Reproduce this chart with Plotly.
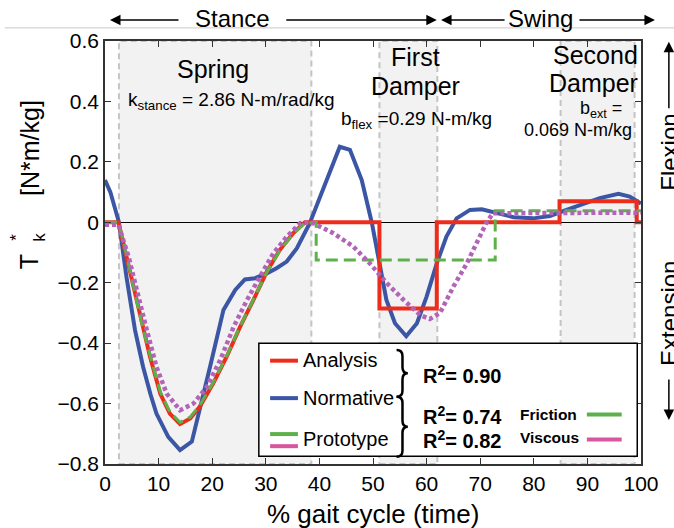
import plotly.graph_objects as go

# ---------------- data ----------------
norm_x = [0, 1, 2.6, 4, 5.6, 7.1, 8.5, 9.6, 11.8, 14, 16.2, 17.7, 19.6, 22.1, 24.3, 26.1, 28,
          30.2, 32, 33.9, 35.8, 38.2, 41.3, 43.8, 45.7, 47.9, 49.8, 51.3, 52.5, 54.1, 56.2,
          58.2, 60, 61.9, 63.7, 65.6, 68.1, 70.3, 73.1, 76.2, 79.9, 83, 86.1, 89.2, 92.3,
          95.8, 97.9, 100]
norm_y = [0.14, 0.10, 0.0, -0.18, -0.357, -0.478, -0.57, -0.633, -0.71, -0.754, -0.726, -0.62,
          -0.478, -0.29, -0.224, -0.189, -0.185, -0.169, -0.152, -0.13, -0.086, -0.003, 0.14,
          0.25, 0.24, 0.14, -0.003, -0.136, -0.257, -0.334, -0.377, -0.334, -0.246, -0.136,
          -0.047, 0.013, 0.041, 0.043, 0.032, 0.017, 0.013, 0.021, 0.041, 0.061, 0.08, 0.094,
          0.085, 0.062]

analysis_x = [0, 2.5, 3.7, 5.3, 6.8, 8.4, 10.3, 12.1, 14, 15.9, 17.7, 20.2, 22.7, 25.2, 27.7,
              30.2, 32.6, 35.1, 37.3, 38.5, 51.2, 51.2, 61.9, 61.9, 84.8, 84.8, 99.2, 99.2, 100]
analysis_y = [0, 0, -0.09, -0.213, -0.334, -0.445, -0.567, -0.633, -0.668, -0.649, -0.61,
              -0.533, -0.445, -0.346, -0.257, -0.163, -0.092, -0.036, 0, 0, 0, -0.285, -0.285,
              0, 0, 0.07, 0.07, 0, 0]

friction_x = [0, 2.5, 3.7, 5.3, 6.8, 8.4, 10.3, 12.1, 14, 15.9, 17.7, 20.2, 22.7, 25.2, 27.7,
              30.2, 32.6, 35.1, 37.3, 38.5, 39.4, 39.4, 72.8, 72.8, 100]
friction_y = [0, 0, -0.085, -0.21, -0.33, -0.44, -0.56, -0.628, -0.662, -0.645, -0.605, -0.53,
              -0.443, -0.345, -0.257, -0.165, -0.094, -0.038, -0.002, 0, 0, -0.125, -0.125,
              0.038, 0.038]

viscous_x = [0, 2.5, 4.4, 5.9, 7.8, 9.6, 11.5, 14, 16.5, 19, 21.5, 24, 26.5, 28.9, 31.4, 33.9,
             36.4, 38.5, 42.6, 46.3, 49.4, 52.5, 55.7, 58.8, 60.6, 62.5, 65, 67.5, 69.4, 71.2,
             72.4, 100]
viscous_y = [-0.008, -0.008, -0.114, -0.224, -0.357, -0.478, -0.567, -0.622, -0.6, -0.545,
             -0.456, -0.346, -0.257, -0.18, -0.103, -0.048, -0.003, 0, -0.036, -0.08, -0.136,
             -0.2, -0.257, -0.307, -0.32, -0.3, -0.213, -0.136, -0.07, 0, 0.03, 0.032]

region_start = [2.6, 51.2, 85.0]
region_end = [38.5, 62.0, 98.8]

r2_labels = ["0.90", "0.74", "0.82"]

# ---------------- style ----------------
FONT = "Liberation Sans, Arial, sans-serif"
RED = "#ec2d1c"
BLUE = "#3a56a5"
GREEN = "#5db14a"
PURPLE = "#b264b8"
PINK = "#d8569d"

fig = go.Figure()

fig.add_trace(go.Scatter(x=norm_x, y=norm_y, mode="lines",
                         line=dict(color=BLUE, width=4), showlegend=False))
fig.add_trace(go.Scatter(x=analysis_x, y=analysis_y, mode="lines",
                         line=dict(color=RED, width=4), showlegend=False))
fig.add_trace(go.Scatter(x=friction_x, y=friction_y, mode="lines",
                         line=dict(color=GREEN, width=3, dash="12px,6px"), showlegend=False))
fig.add_trace(go.Scatter(x=viscous_x, y=viscous_y, mode="lines",
                         line=dict(color=PURPLE, width=4.5, dash="4px,3px"), showlegend=False))

shapes = []
for a, b in zip(region_start, region_end):
    shapes.append(dict(type="rect", xref="x", yref="y", x0=a, x1=b, y0=-0.8, y1=0.6,
                       fillcolor="#f2f2f2", line=dict(color="#c4c4c4", width=2, dash="6px,4px"),
                       layer="below"))

# thin line above the plot
shapes.append(dict(type="line", xref="paper", yref="paper", x0=-0.187, x1=1.07,
                   y0=1.031, y1=1.031, line=dict(color="#c8c8c8", width=1)))

# legend box
shapes.append(dict(type="rect", xref="x", yref="y", x0=28.7, x1=99.3, y0=-0.774, y1=-0.40,
                   fillcolor="white", line=dict(color="black", width=1.5), layer="above"))
leg_segments = [(30.8, 36.0, -0.458, RED), (30.8, 36.0, -0.582, BLUE),
                (30.8, 36.0, -0.701, GREEN), (30.8, 36.0, -0.741, PINK),
                (89.9, 96.4, -0.636, GREEN), (89.9, 96.4, -0.719, PINK)]
for x0, x1, yy, c in leg_segments:
    shapes.append(dict(type="line", xref="x", yref="y", x0=x0, x1=x1, y0=yy, y1=yy,
                       line=dict(color=c, width=4), layer="above"))


def brace(xe, xs, xt, ytop, ymid, ybot, r):
    return (f"M {xe},{ytop} Q {xs},{ytop} {xs},{ytop - r} L {xs},{ymid + r} "
            f"Q {xs},{ymid} {xt},{ymid} Q {xs},{ymid} {xs},{ymid - r} "
            f"L {xs},{ybot + r} Q {xs},{ybot} {xe},{ybot}")


for ytop, ymid, ybot in [(-0.423, -0.500, -0.5775), (-0.5775, -0.677, -0.776)]:
    shapes.append(dict(type="path", xref="x", yref="y",
                       path=brace(54.4, 55.5, 56.5, ytop, ymid, ybot, 0.02),
                       line=dict(color="black", width=2.5), layer="above"))

ann = []


def txt(x, y, text, size, xref="x", yref="y", xanchor="center", bold=False, angle=0,
        yanchor="middle"):
    if bold:
        text = f"<b>{text}</b>"
    ann.append(dict(x=x, y=y, xref=xref, yref=yref, text=text, showarrow=False,
                    xanchor=xanchor, yanchor=yanchor, textangle=angle,
                    font=dict(family=FONT, size=size, color="black")))


# region annotations
txt(20.1, 0.508, "Spring", 25)
txt(4.0, 0.40, "k<sub>stance</sub> = 2.86 N-m/rad/kg", 19, xanchor="left")
txt(57.9, 0.546, "First", 25)
txt(57.9, 0.451, "Damper", 25)
txt(58.1, 0.338, "b<sub>flex</sub> =0.29 N-m/kg", 19)
txt(99.8, 0.553, "Second", 25, xanchor="right")
txt(99.8, 0.460, "Damper", 25, xanchor="right")
txt(92.6, 0.374, "b<sub>ext</sub> =", 18)
txt(88.2, 0.307, "0.069 N-m/kg", 18)

# legend texts
txt(36.5, -0.457, "Analysis", 20, xanchor="left")
txt(36.5, -0.582, "Normative", 20, xanchor="left")
txt(36.5, -0.718, "Prototype", 20, xanchor="left")
for yy, lab in zip([-0.505, -0.641, -0.719], r2_labels):
    txt(58.9, yy, f"R<sup>2</sup>= {lab}", 20, xanchor="left", bold=True)
txt(77.0, -0.636, "Friction", 15.5, xanchor="left", bold=True)
txt(77.0, -0.713, "Viscous", 15.5, xanchor="left", bold=True)

# top phase labels
txt(0.237, 1.054, "Stance", 24, xref="paper", yref="paper")
txt(0.812, 1.054, "Swing", 24, xref="paper", yref="paper")

# right side labels
txt(1.054, 0.738, "Flexion", 24, xref="paper", yref="paper", angle=-90)
txt(1.054, 0.357, "Extension", 24, xref="paper", yref="paper", angle=-90)

# axis titles
txt(0.5, -0.118, "% gait cycle (time)", 26, xref="paper", yref="paper")
txt(-0.14, 0.747, "[N*m/kg]", 25, xref="paper", yref="paper", angle=-90)
txt(-0.143, 0.478, "T", 25, xref="paper", yref="paper", angle=-90)
txt(-0.164, 0.535, "*", 17, xref="paper", yref="paper", angle=-90)
txt(-0.121, 0.535, "k", 17, xref="paper", yref="paper", angle=-90)


def arrow(x, y, ax, ay):
    ann.append(dict(x=x, y=y, xref="paper", yref="paper", axref="pixel", ayref="pixel",
                    ax=ax, ay=ay, text="", showarrow=True, arrowhead=2, arrowsize=1.4,
                    arrowwidth=1.5, arrowcolor="black"))


ytop_arrow = 1.0496
arrow(0.0093, ytop_arrow, 70, 0)
arrow(0.619, ytop_arrow, -152, 0)
arrow(0.627, ytop_arrow, 65, 0)
arrow(1.026, ytop_arrow, -77, 0)
arrow(1.052, 0.998, 0, 68)
arrow(1.052, 0.104, 0, -42)

fig.update_layout(
    width=674, height=528,
    margin=dict(l=105, r=33, t=41, b=64),
    paper_bgcolor="white", plot_bgcolor="white",
    shapes=shapes, annotations=ann, showlegend=False,
    font=dict(family=FONT, size=21, color="black"),
)
fig.update_xaxes(range=[0, 100], tickvals=[0, 10, 20, 30, 40, 50, 60, 70, 80, 90, 100],
                 ticks="inside", ticklen=6, tickcolor="#333", showline=True, linecolor="#333",
                 linewidth=1.5, mirror="ticks", showgrid=False, zeroline=False,
                 tickfont=dict(family=FONT, size=21, color="black"))
fig.update_yaxes(range=[-0.8, 0.6], tickvals=[-0.8, -0.6, -0.4, -0.2, 0, 0.2, 0.4, 0.6],
                 ticktext=["\u22120.8", "\u22120.6", "\u22120.4", "\u22120.2", "0", "0.2", "0.4", "0.6"],
                 ticks="inside", ticklen=6, tickcolor="#333", showline=True, linecolor="#333",
                 linewidth=1.5, mirror="ticks", showgrid=False, zeroline=True,
                 zerolinecolor="black", zerolinewidth=1.2,
                 tickfont=dict(family=FONT, size=21, color="black"))

fig.write_html("out.html", config={"displayModeBar": False},
               post_script="document.body.style.margin='0px';")
